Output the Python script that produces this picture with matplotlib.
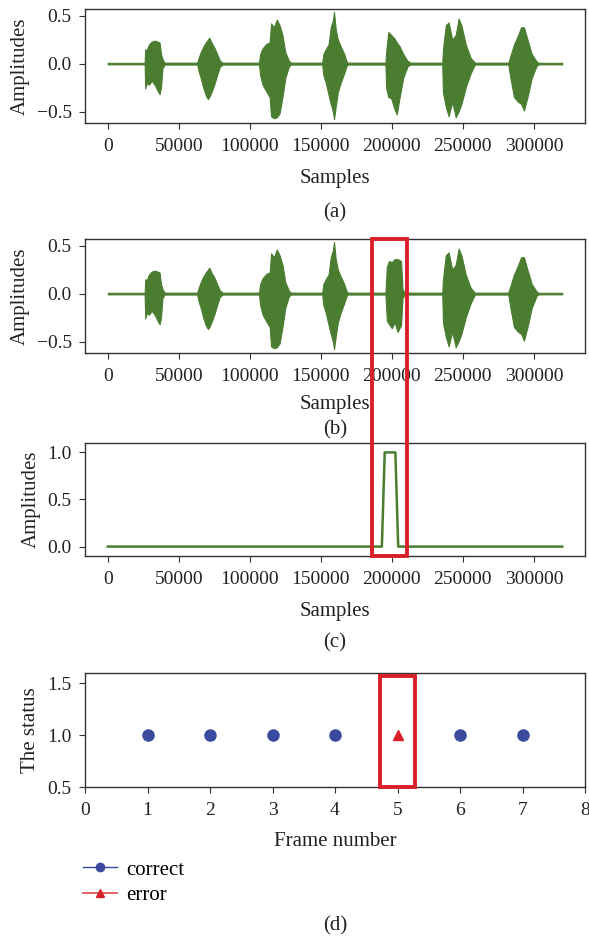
import matplotlib.pyplot as plt
from matplotlib.patches import Rectangle
from matplotlib.lines import Line2D

plt.rcParams['font.family'] = ['Liberation Serif', 'DejaVu Serif']
plt.rcParams['font.size'] = 14

# Envelope of the speech signal (upper / lower amplitude)
wave_x = [0, 26000, 26400, 27500, 29000, 31000, 33000, 35000, 36500, 37500, 38500, 40000,
          63000, 64000, 65500, 67000, 69000, 70500, 71500, 73000, 75000, 77000, 79000, 81000,
          106500, 107300, 109000, 112000, 114000, 115000, 117000, 119000, 121000, 123000, 125000, 127500, 129000,
          151000, 151800, 153500, 155500, 157000, 158500, 159300, 160500, 162000, 164000, 166500, 168000, 169000,
          195500, 196000, 197500, 199500, 202000, 203500, 205500, 208000, 211000, 213000,
          235500, 236000, 238000, 240000, 242500, 245000, 247000, 249000, 252000, 255500, 258500,
          282000, 283500, 286000, 289000, 291000, 293000, 295500, 298500, 302000, 303500, 320000]
wave_up = [0.008, 0.008, 0.15, 0.14, 0.20, 0.23, 0.24, 0.23, 0.22, 0.10, 0.05, 0.01,
           0.01, 0.06, 0.12, 0.17, 0.22, 0.25, 0.27, 0.22, 0.17, 0.10, 0.03, 0.01,
           0.01, 0.10, 0.16, 0.21, 0.22, 0.42, 0.38, 0.46, 0.40, 0.30, 0.12, 0.03, 0.01,
           0.01, 0.10, 0.15, 0.20, 0.38, 0.45, 0.54, 0.36, 0.25, 0.18, 0.10, 0.03, 0.01,
           0.01, 0.12, 0.33, 0.30, 0.26, 0.22, 0.18, 0.10, 0.03, 0.01,
           0.01, 0.15, 0.40, 0.43, 0.25, 0.30, 0.47, 0.40, 0.20, 0.06, 0.01,
           0.01, 0.08, 0.20, 0.30, 0.38, 0.38, 0.25, 0.10, 0.02, 0.008, 0.008]
wave_lo = [-0.008, -0.008, -0.26, -0.20, -0.22, -0.18, -0.22, -0.28, -0.32, -0.25, -0.05, -0.01,
           -0.01, -0.08, -0.15, -0.24, -0.33, -0.37, -0.35, -0.30, -0.22, -0.12, -0.03, -0.01,
           -0.01, -0.12, -0.22, -0.30, -0.35, -0.55, -0.57, -0.56, -0.52, -0.35, -0.15, -0.03, -0.01,
           -0.01, -0.12, -0.20, -0.33, -0.42, -0.50, -0.58, -0.45, -0.30, -0.20, -0.10, -0.03, -0.01,
           -0.01, -0.25, -0.35, -0.36, -0.48, -0.53, -0.35, -0.15, -0.03, -0.01,
           -0.01, -0.30, -0.45, -0.55, -0.40, -0.56, -0.50, -0.42, -0.25, -0.10, -0.01,
           -0.01, -0.15, -0.35, -0.40, -0.42, -0.49, -0.35, -0.15, -0.02, -0.008, -0.008]

# the 5th word in the modified signal (b)
word5_b_x = [195500, 196500, 198000, 200000, 202000, 204000, 206500, 207500, 209000]
word5_b_up = [0.01, 0.28, 0.34, 0.33, 0.36, 0.36, 0.34, 0.05, 0.01]
word5_b_lo = [-0.01, -0.28, -0.32, -0.36, -0.30, -0.40, -0.33, -0.05, -0.01]

# detection output (c)
vad_x = [0, 193000, 195000, 202500, 204500, 320000]
vad_y = [0, 0, 1, 1, 0, 0]

# frame status (d)
frames_ok = [1, 2, 3, 4, 6, 7]
status_ok = [1, 1, 1, 1, 1, 1]
frames_err = [5]
status_err = [1]

green = '#4a7d30'
red = '#d9202a'
blue = '#3a4a9e'
dark = '#333333'
txt = '#222222'

# build signal (b) by swapping in the changed word
wave_b_x, wave_b_up, wave_b_lo = [], [], []
for x, u, l in zip(wave_x, wave_up, wave_lo):
    if x < 195500 or x > 213000:
        wave_b_x.append(x)
        wave_b_up.append(u)
        wave_b_lo.append(l)
    if x == 169000:
        wave_b_x += word5_b_x
        wave_b_up += word5_b_up
        wave_b_lo += word5_b_lo

fig = plt.figure(figsize=(5.89, 9.36), dpi=100)
W, H = 589, 936


def make_axes(top, bottom, left=85, right=585):
    ax = fig.add_axes([left / W, 1 - bottom / H, (right - left) / W, (bottom - top) / H])
    for s in ax.spines.values():
        s.set_color(dark)
        s.set_linewidth(1.0)
    ax.tick_params(direction='out', length=4.5, color=dark, labelcolor=txt, labelsize=14, pad=6.5)
    return ax


ax_a = make_axes(9, 123)
ax_b = make_axes(239, 353)
ax_c = make_axes(443, 556)
ax_d = make_axes(673, 787)

xticks = [0, 50000, 100000, 150000, 200000, 250000, 300000]

ax_a.fill_between(wave_x, wave_lo, wave_up, color=green, linewidth=0.8)
ax_b.fill_between(wave_b_x, wave_b_lo, wave_b_up, color=green, linewidth=0.8)
for ax in (ax_a, ax_b):
    ax.set_ylim(-0.62, 0.57)
    ax.set_yticks([-0.5, 0.0, 0.5])
    ax.set_yticklabels(['\u22120.5', '0.0', '0.5'])

ax_c.plot(vad_x, vad_y, color=green, linewidth=1.8)
ax_c.set_ylim(-0.1, 1.1)
ax_c.set_yticks([0.0, 0.5, 1.0])

for ax in (ax_a, ax_b, ax_c):
    ax.set_xlim(-16000, 336000)
    ax.set_xticks(xticks)
    ax.set_xticklabels([str(t) for t in xticks])
    ax.set_ylabel('Amplitudes', fontsize=15, color=txt, labelpad=5)
    ax.set_xlabel('Samples', fontsize=15, color=txt)
    ax.tick_params(axis='y', pad=5)

ax_a.xaxis.labelpad = 10
ax_b.xaxis.labelpad = 7
ax_c.xaxis.labelpad = 10

ax_d.plot(frames_ok, status_ok, 'o', color=blue, markersize=8)
ax_d.plot(frames_err, status_err, '^', color=red, markersize=7.5)
ax_d.set_xlim(0, 8)
ax_d.set_ylim(0.5, 1.6)
ax_d.set_xticks(range(9))
ax_d.set_yticks([0.5, 1.0, 1.5])
ax_d.tick_params(axis='y', pad=5)
ax_d.set_xlabel('Frame number', fontsize=15, color=txt, labelpad=9)
ax_d.set_ylabel('The status', fontsize=15, color=txt, labelpad=5)
ax_d.add_patch(Rectangle((4.72, 0.5), 0.56, 1.07, fill=False, edgecolor=red,
                         linewidth=2.8, clip_on=False, zorder=5))

handles = [Line2D([], [], color=blue, marker='o', markersize=6, linewidth=1),
           Line2D([], [], color='#e0474f', marker='^', markerfacecolor=red,
                  markeredgecolor=red, markersize=6, linewidth=1.2)]
ax_d.legend(handles, ['correct', 'error'], loc='upper left', bbox_to_anchor=(-0.005, -0.64),
            frameon=False, fontsize=15, handlelength=1.65, handletextpad=0.45,
            labelspacing=0.3, borderaxespad=0, borderpad=0)

# red box across (b) and (c)
inv = fig.transFigure.inverted()
x0 = inv.transform(ax_b.transData.transform((186000, 0)))[0]
x1 = inv.transform(ax_b.transData.transform((211000, 0)))[0]
y1 = ax_b.get_position().y1
y0 = ax_c.get_position().y0
fig.add_artist(Rectangle((x0, y0), x1 - x0, y1 - y0, transform=fig.transFigure, fill=False,
                         edgecolor=red, linewidth=2.8, zorder=10))

# panel captions
xc = (85 + 585) / 2 / W
for label, ypix in [('(a)', 213), ('(b)', 430), ('(c)', 643), ('(d)', 926)]:
    fig.text(xc, 1 - ypix / H, label, ha='center', va='center', fontsize=15, color=txt)

fig.savefig('out.png', dpi=100)
